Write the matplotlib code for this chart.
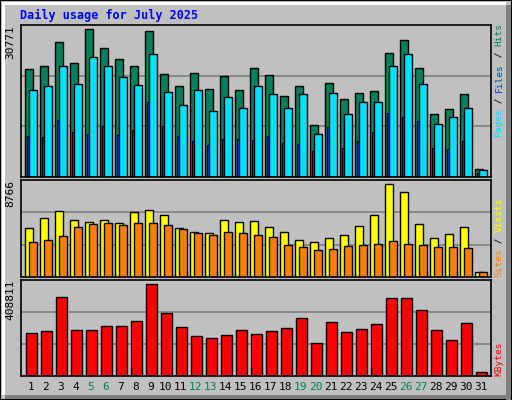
import matplotlib
matplotlib.use("Agg")
import matplotlib.pyplot as plt
from matplotlib.patches import Rectangle

days = list(range(1, 32))
weekend = [5, 6, 12, 13, 19, 20, 26, 27]

hits = [21777, 22385, 27255, 22994, 29892, 26037, 23806, 22385, 29487, 20762,
        18328, 20965, 17719, 20357, 17516, 21980, 20560, 16299, 18328, 10618,
        18936, 15690, 16908, 17313, 25023, 27661, 21980, 12850, 13864, 16705, 1691]
files = [17516, 18328, 22385, 18734, 24212, 22385, 20154, 18531, 24820, 17110,
         14676, 17516, 13458, 16096, 14067, 18328, 16705, 14067, 16705, 8792,
         16908, 12850, 15082, 15284, 22385, 24820, 18734, 10821, 12241, 14067, 1488]
pages = [8386, 8183, 11632, 9198, 8792, 10415, 8589, 9603, 15082, 10415,
         8386, 7372, 6560, 7777, 7777, 7575, 8386, 6966, 6763, 5343,
         10212, 5951, 7372, 9198, 13053, 12241, 11429, 5951, 5749, 7372, 879]
visits = [4398, 5308, 5945, 5126, 4944, 5126, 4853, 5854, 6036, 5581,
          4398, 4034, 3943, 5126, 4944, 5035, 4489, 4034, 3306, 3124,
          3488, 3761, 4580, 5581, 8401, 7673, 4762, 3488, 3852, 4489, 455]
sites = [3124, 3306, 3670, 4489, 4762, 4853, 4671, 4853, 4853, 4671,
         4307, 3943, 3761, 4034, 3943, 3761, 3579, 2851, 2669, 2396,
         2487, 2760, 2851, 2942, 3215, 2942, 2851, 2669, 2669, 2578, 455]
kbytes = [181534, 190110, 335909, 194398, 194398, 211551, 211551, 232992, 391656, 267298,
          207263, 168669, 160093, 172957, 194398, 177246, 190110, 202975, 245857, 138652,
          228704, 185822, 198687, 220128, 331621, 331621, 280162, 194398, 151516, 224416, 18582]

max_hits = 30771
max_visits = 8766
max_kb = 408811

W, H = 512, 400
BG = "#c0c0c0"
fig = plt.figure(figsize=(W / 100, H / 100), dpi=100, facecolor=BG)
mono = "DejaVu Sans Mono"

# frame with shadow
fig.patches.append(Rectangle((0, 0), 1, 1, transform=fig.transFigure, fill=False, ec="black", lw=1.5))
fig.patches.append(Rectangle((506 / W, 0), 5 / W, 395 / H, transform=fig.transFigure, fc="#808080", ec="none"))
fig.patches.append(Rectangle((5 / W, 1 / H), 506 / W, 4 / H, transform=fig.transFigure, fc="#808080", ec="none"))
fig.patches.append(Rectangle((2 / W, 5 / H), 3 / W, 393 / H, transform=fig.transFigure, fc="white", ec="none"))
fig.patches.append(Rectangle((2 / W, 395 / H), 504 / W, 3 / H, transform=fig.transFigure, fc="white", ec="none"))


def panel(top, bottom, ymax):
    ax = fig.add_axes([20.7 / W, 1 - bottom / H, 470 / W, (bottom - top) / H])
    ax.set_facecolor(BG)
    ax.set_xlim(0.323, 31.66)
    ax.set_ylim(0, ymax)
    ax.set_xticks([])
    ax.set_yticks([])
    for y in (ymax / 3, 2 * ymax / 3):
        ax.axhline(y, color="#808080", lw=1.2, zorder=0)
    for s in ax.spines.values():
        s.set_color("black")
        s.set_linewidth(1.2)
    ax.text(-0.022, 1.0, str(ymax), transform=ax.transAxes, rotation=90,
            ha="center", va="top", family=mono, fontsize=8)
    return ax


ax1 = panel(25, 177, max_hits)
ax1.bar([d - 0.39 for d in days], hits, width=0.52, align="edge", color="#00805c", ec="black", lw=1)
ax1.bar([d - 0.28 for d in days], pages, width=0.2, align="edge", color="#0040ff", ec="black", lw=0.8)
ax1.bar([d - 0.1 for d in days], files, width=0.52, align="edge", color="#00e0ff", ec="black", lw=1)

ax2 = panel(180, 277, max_visits)
ax2.bar([d - 0.39 for d in days], visits, width=0.52, align="edge", color="#ffff00", ec="black", lw=1)
ax2.bar([d - 0.1 for d in days], sites, width=0.52, align="edge", color="#ff8000", ec="black", lw=1)

ax3 = panel(280, 376, max_kb)
ax3.bar([d - 0.3 for d in days], kbytes, width=0.69, align="edge", color="#ff0000", ec="black", lw=1)

for d in days:
    ax3.text(d, -0.06, str(d), transform=ax3.get_xaxis_transform(), ha="center", va="top",
             family=mono, fontsize=8, color="#00805c" if d in weekend else "black")

fig.text(20 / W, 1 - 15 / H, "Daily usage for July 2025", color="#0000ff",
         family=mono, fontweight="bold", fontsize=8.5, va="center")

SIDE_FS = 6.8
CHAR = 0.602 * SIDE_FS * 100 / 72


def side_label(y_bottom, parts):
    y = y_bottom
    for txt, col in parts:
        fig.text(499 / W, 1 - y / H, txt, rotation=90, color=col, family=mono,
                 fontsize=SIDE_FS, ha="center", va="bottom")
        y -= CHAR * len(txt)


side_label(137, [("Pages", "#00e0ff"), (" / ", "black"), ("Files", "#0040ff"),
                 (" / ", "black"), ("Hits", "#00805c")])
side_label(277, [("Sites", "#ff8000"), (" / ", "black"), ("Visits", "#ffff00")])
side_label(376, [("KBytes", "#ff0000")])

fig.savefig("out.png", dpi=100, facecolor=BG)
